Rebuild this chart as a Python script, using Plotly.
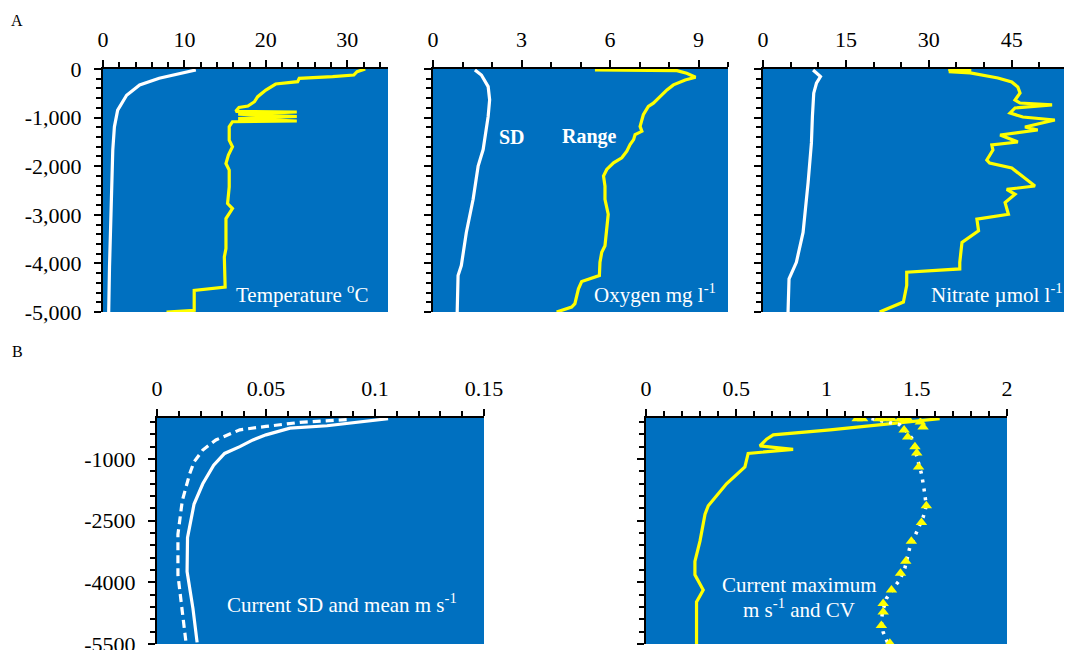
import plotly.graph_objects as go

# ---------------- data ----------------
temp_sd_x = [11.4, 9.4, 6.9, 4.5, 2.9, 1.8, 1.4, 1.2, 1.0, 0.8, 0.7]
temp_sd_y = [-20, -100, -190, -330, -540, -845, -1190, -1670, -2700, -4070, -5000]

temp_rng_x = [32.2, 31.2, 30.8, 28.2, 24.1, 23.9, 21.2, 20.0, 19.0, 18.6, 17.8, 16.7, 16.3,
              23.8, 16.6, 23.8, 16.6, 23.8, 15.9, 15.5, 15.5, 15.9, 15.4, 15.1, 15.5, 15.5,
              15.3, 15.9, 15.1, 15.1, 15.1, 14.9, 15.0, 11.2, 11.2, 7.8]
temp_rng_y = [0, -55, -124, -158, -192, -261, -309, -433, -570, -673, -762, -790, -870,
              -885, -930, -977, -1020, -1070, -1085, -1188, -1463, -1600, -1772, -1944, -2081, -2424,
              -2768, -2871, -3077, -3386, -3695, -3867, -4485, -4554, -4966, -5000]

oxy_sd_x = [1.42, 1.64, 1.87, 1.92, 1.87, 1.70, 1.53, 1.36, 1.13, 0.96, 0.85, 0.82]
oxy_sd_y = [-20, -123, -362, -635, -976, -1658, -1999, -2681, -3363, -4045, -4250, -5000]

oxy_rng_x = [5.49, 8.27, 8.6, 8.9, 8.55, 8.15, 7.93, 7.7, 7.47, 7.3, 7.13, 7.02, 7.08, 6.85,
             6.8, 6.68, 6.57, 6.4, 6.12, 5.89, 5.78, 5.83, 5.83, 5.94, 5.89, 5.83, 5.72,
             5.66, 5.64, 5.04, 4.93, 4.81, 4.7, 4.19]
oxy_rng_y = [-20, -34, -89, -170, -225, -327, -430, -566, -703, -771, -941, -1180, -1282, -1351,
             -1453, -1555, -1692, -1828, -1930, -2067, -2203, -2408, -2681, -2988, -3295, -3636, -3772,
             -3977, -4250, -4372, -4523, -4830, -4898, -5000]

nit_sd_x = [9.06, 10.4, 9.67, 9.18, 8.94, 8.76, 8.16, 7.25, 6.04, 5.14, 4.71, 4.53]
nit_sd_y = [-20, -157, -293, -498, -976, -1521, -2340, -3363, -3977, -4216, -4318, -5000]

nit_rng_x = [33.5, 37.4, 37.4, 33.6, 37.5, 42.5, 45.0, 46.1, 46.5, 45.6, 46.5, 52.3, 45.6,
             44.7, 47.0, 52.8, 47.4, 49.7, 42.9, 46.1, 41.4, 41.6, 40.5, 41.0, 45.0, 49.2,
             44.1, 45.6, 43.8, 44.4, 38.7, 39.0, 36.0, 35.6, 35.6, 26.0, 26.0, 25.4, 21.1]
nit_rng_y = [-15, -15, -70, -55, -80, -185, -267, -370, -494, -638, -700, -740, -802,
             -905, -988, -1050, -1193, -1255, -1358, -1502, -1564, -1667, -1872, -1934, -2037, -2408,
             -2476, -2578, -2749, -2988, -3090, -3329, -3568, -3977, -4113, -4181, -4454, -4795, -5000]

cur_sd_x = [0.106, 0.094, 0.078, 0.061, 0.050, 0.044, 0.038, 0.031, 0.026, 0.021, 0.017,
            0.014, 0.0138, 0.0165, 0.0184]
cur_sd_y = [-16, -82, -189, -246, -410, -534, -698, -862, -1149, -1601, -2094,
            -2915, -3736, -4639, -5460]

cur_mean_x = [0.087, 0.0655, 0.050, 0.038, 0.027, 0.021, 0.017, 0.015, 0.0116, 0.0096,
              0.0096, 0.0116, 0.0132]
cur_mean_y = [-41, -107, -205, -287, -534, -780, -1067, -1355, -2012, -2833,
              -3818, -4639, -5419]

cur_max_x = [1.627, 1.02, 0.705, 0.668, 0.631, 0.815, 0.566, 0.548, 0.446, 0.345, 0.327,
             0.299, 0.271, 0.271, 0.317, 0.280, 0.280]
cur_max_y = [-16, -290, -410, -517, -681, -764, -862, -1190, -1601, -2135, -2340,
             -2997, -3489, -3818, -4187, -4475, -5500]

cur_cv_x = [1.249, 1.406, 1.452, 1.480, 1.498, 1.526, 1.539, 1.553, 1.535, 1.498, 1.461,
            1.434, 1.406, 1.369, 1.332, 1.310, 1.304, 1.314, 1.341]
cur_cv_y = [-16, -164, -369, -534, -903, -1355, -1683, -2135, -2422, -2791, -3161,
            -3654, -3941, -4146, -4392, -4721, -4967, -5213, -5500]

cur_tri_x = [1.17, 1.20, 1.29, 1.32, 1.36, 1.41, 1.45, 1.52, 1.535, 1.43, 1.45,
             1.49, 1.50, 1.51, 1.553, 1.526, 1.470, 1.439, 1.410, 1.360, 1.314, 1.314,
             1.304, 1.351]
cur_tri_y = [-16, -16, -16, -16, -16, -16, -16, -100, -220, -290, -460,
             -700, -850, -1190, -2135, -2545, -2997, -3489, -3777, -4187, -4516, -4721,
             -5049, -5480]

# tick labels
top_depth_vals = [0, -1000, -2000, -3000, -4000, -5000]
top_depth_labels = ["0", "-1,000", "-2,000", "-3,000", "-4,000", "-5,000"]
bot_depth_vals = [-5500, -4000, -2500, -1000]
bot_depth_labels = ["-5500", "-4000", "-2500", "-1000"]
temp_x_vals, temp_x_labels = [0, 10, 20, 30], ["0", "10", "20", "30"]
oxy_x_vals, oxy_x_labels = [0, 3, 6, 9], ["0", "3", "6", "9"]
nit_x_vals, nit_x_labels = [0, 15, 30, 45], ["0", "15", "30", "45"]
cur_x_vals, cur_x_labels = [0, 0.05, 0.1, 0.15], ["0", "0.05", "0.1", "0.15"]
max_x_vals, max_x_labels = [0, 0.5, 1, 1.5, 2], ["0", "0.5", "1", "1.5", "2"]

# ---------------- layout helpers ----------------
# the page body has an 8px margin, so the figure is placed at (8, 8)
OFF = 8
W, H = 1072 - OFF, 650 - OFF
BLUE = "#0070C0"
YEL = "#FFFF00"
FONT = "Liberation Serif"


def dom_x(a, b):
    return [(a - OFF) / W, (b - OFF) / W]


def dom_y(top, bottom):
    return [1 - (bottom - OFF) / H, 1 - (top - OFF) / H]


fig = go.Figure()

panels = [
    # key, x-domain, y-domain, x-range, x minor step, x major vals, x labels,
    # y-range, y minor start, y minor step, y major vals, y labels, show y labels
    ("1", dom_x(103, 388), dom_y(69, 312), [0, 35], 2, temp_x_vals, temp_x_labels,
     [-5000, 0], -5000, 200, top_depth_vals, top_depth_labels, True),
    ("2", dom_x(433, 728), dom_y(69, 312), [0, 10], 1, oxy_x_vals, oxy_x_labels,
     [-5000, 0], -5000, 200, top_depth_vals, top_depth_labels, False),
    ("3", dom_x(763, 1067), dom_y(69, 312), [0, 55], 5, nit_x_vals, nit_x_labels,
     [-5000, 0], -5000, 200, top_depth_vals, top_depth_labels, False),
    ("4", dom_x(157, 484), dom_y(418, 644), [0, 0.15], 0.01, cur_x_vals, cur_x_labels,
     [-5500, 0], -5500, 300, bot_depth_vals, bot_depth_labels, True),
    ("5", dom_x(646, 1007), dom_y(418, 644), [0, 2], 0.1, max_x_vals, max_x_labels,
     [-5500, 0], -5500, 300, bot_depth_vals, bot_depth_labels, False),
]

for (k, xd, yd, xr, xs, xmaj, xlab, yr, y0, ys, ymaj, ylab, showy) in panels:
    sfx = "" if k == "1" else k
    common = dict(
        automargin=False, tickmode="array", ticks="outside", ticklen=7, tickwidth=1.5,
        tickcolor="black", showline=True, linecolor="black", linewidth=2,
        showgrid=False, zeroline=False, fixedrange=True, ticklabeloverflow="allow",
        tickfont=dict(family=FONT, size=22, color="black"),
    )
    fig.layout["xaxis" + sfx] = dict(
        domain=xd, range=xr, side="top", anchor="y" + sfx,
        tickvals=xmaj, ticktext=xlab, ticklabelstandoff=4,
        minor=dict(tickmode="linear", tick0=0, dtick=xs, ticks="outside", ticklen=5,
                   tickwidth=1.5, tickcolor="black", showgrid=False),
        **common,
    )
    fig.layout["yaxis" + sfx] = dict(
        domain=yd, range=yr, anchor="x" + sfx,
        tickvals=ymaj, ticktext=ylab, showticklabels=showy, ticklabelstandoff=8,
        minor=dict(tickmode="linear", tick0=y0, dtick=ys, ticks="outside", ticklen=5,
                   tickwidth=1.5, tickcolor="black", showgrid=False),
        **common,
    )
    fig.add_shape(type="rect", xref="x" + sfx + " domain", yref="y" + sfx + " domain",
                  x0=0, x1=1, y0=0, y1=1, fillcolor=BLUE, line_width=0, layer="below")


def line(x, y, ax, color, width=3.2, dash=None):
    sfx = "" if ax == "1" else ax
    fig.add_trace(go.Scatter(x=x, y=y, xaxis="x" + sfx, yaxis="y" + sfx, mode="lines",
                             line=dict(color=color, width=width, dash=dash),
                             showlegend=False, hoverinfo="skip"))


line(temp_sd_x, temp_sd_y, "1", "white")
line(temp_rng_x, temp_rng_y, "1", YEL)
line(oxy_sd_x, oxy_sd_y, "2", "white")
line(oxy_rng_x, oxy_rng_y, "2", YEL)
line(nit_sd_x, nit_sd_y, "3", "white")
line(nit_rng_x, nit_rng_y, "3", YEL)
line(cur_sd_x, cur_sd_y, "4", "white")
line(cur_mean_x, cur_mean_y, "4", "white", dash="8px,5px")
line(cur_max_x, cur_max_y, "5", YEL)
line(cur_cv_x, cur_cv_y, "5", "white", width=3.5, dash="3px,6px")
fig.add_trace(go.Scatter(x=cur_tri_x, y=cur_tri_y, xaxis="x5", yaxis="y5", mode="markers",
                         marker=dict(symbol="triangle-up", color=YEL, size=10),
                         showlegend=False, hoverinfo="skip"))


def note(text, x, y, size=21, bold=False, color="white"):
    if bold:
        text = "<b>" + text + "</b>"
    fig.add_annotation(text=text, x=(x - OFF) / W, y=1 - (y - OFF) / H,
                       xref="paper", yref="paper",
                       showarrow=False, xanchor="center", yanchor="middle",
                       font=dict(family=FONT, size=size, color=color))


note("Temperature <sup>o</sup>C", 302, 293)
note("SD", 512, 137, size=20, bold=True)
note("Range", 589, 137, size=20, bold=True)
note("Oxygen mg l<sup>-1</sup>", 655, 293)
note("Nitrate µmol l<sup>-1</sup>", 997, 293)
note("Current SD and mean m s<sup>-1</sup>", 342, 603)
note("Current maximum", 799, 585)
note("m s<sup>-1</sup> and CV", 799, 608)
note("A", 17, 20, size=16, color="black")
note("B", 17, 352, size=16, color="black")

fig.update_layout(
    width=W, height=H, margin=dict(l=0, r=0, t=0, b=0),
    paper_bgcolor="white", plot_bgcolor="white", showlegend=False,
)

fig.write_html("out.html")
